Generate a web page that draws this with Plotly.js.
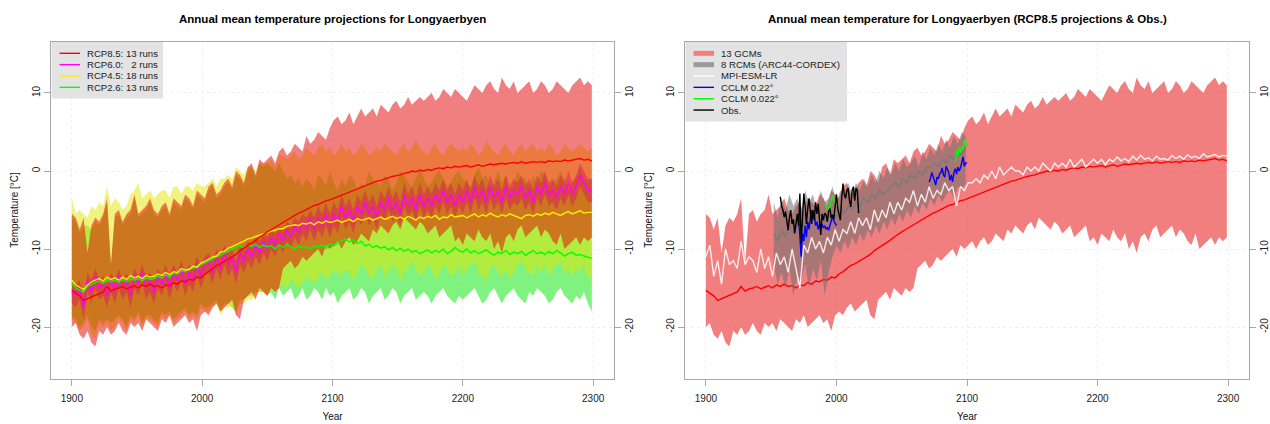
<!DOCTYPE html>
<html><head><meta charset="utf-8">
<script src="https://cdn.plot.ly/plotly-3.0.1.min.js"></script>
<style>html,body{margin:0;padding:0;background:#fff}#chart{width:1270px;height:424px}</style>
</head><body><div id="chart"></div>
<script>
// ---------- DATA (annual mean temperature, °C) ----------
// main series: every 3rd year from 1900 (1900,1903,...,2299)
const mainStart = 1900, mainStep = 3;
const xTicks = [1900, 2000, 2100, 2200, 2300];
const yTicks = [-20, -10, 0, 10];
const yTickText = ['-20', '-10', '0', '10'];

const rcp85_hi = [-5.5,-6,-7.5,-6,-10.5,-7,-6,-6.5,-5.5,-3.5,
 -12,-5.5,-5,-6.5,-5.5,-5,-3,-5.5,-5,-4.5,
 -3.5,-5,-5.5,-4.5,-4,-5.5,-3.5,-4,-4.5,-3,
 -3.5,-4.5,-2.5,-3,-3.5,-2,-1.5,-3,-2.5,-1.5,
 -1,-2,0,-0.5,-1.5,0.5,1,-0.5,1.5,1,
 1.5,2,1,2.5,3,2,2.5,3.5,3,2.5,
 4.5,3.5,4,5,4.5,4,5.5,6.5,7,6,
 6.5,7.5,6,7,8,7,7.5,8,7,8.5,
 8,7.5,8.5,9,8,8.5,9.5,8.5,9,9.5,
 9,9.5,10,9,9.5,10.5,10,9.5,10.5,10,
 9.5,9,10,11,10.5,10,11,11.5,10.5,10,
 12,11,10.5,11.5,10,10.5,11,11.5,10,10.5,
 11.5,11,10,10.5,11.5,11,10.5,10,11,11.5,
 12,11,11.5,11];
const rcp85_lo = [-20,-19.5,-21,-21.5,-20.5,-22,-22.5,-20.5,-21,-20,
 -21,-20.5,-19.5,-20.5,-21,-19.5,-20,-19.5,-20.5,-19,
 -19.5,-20,-20.5,-19,-19.5,-18.5,-20,-19.5,-19,-18.5,
 -19.5,-19,-20.5,-18.5,-18,-18.5,-17.5,-17,-18,-17.5,
 -17,-16.5,-18.5,-19,-16.5,-16,-15.5,-16.5,-15,-15.5,
 -16,-15,-15.5,-15,-12.5,-12,-11.5,-12.5,-12,-11,
 -11.5,-11,-10.5,-10,-11,-9.5,-10,-9.5,-9,-10,
 -9,-8.5,-9.5,-9,-8,-8.5,-9,-7.5,-8,-7,
 -7.5,-8,-7,-6.5,-7.5,-6,-6.5,-7,-7.5,-6.5,
 -7,-8,-7.5,-7,-8.5,-8,-7.5,-7,-9,-8.5,
 -9.5,-8,-8.5,-9,-7.5,-8.5,-9,-8,-10,-9,
 -10.5,-8.5,-8,-9,-7.5,-7,-8.5,-8,-7.5,-7,
 -8.5,-7.5,-8,-9,-9.5,-8,-10,-9.5,-9,-8.5,
 -9.5,-8.5,-9,-8.5];
const rcp85_mean = [-15.3,-15.6,-16,-16.6,-16.4,-16.2,-15.9,-15.7,-15.5,-14.8,
 -15.4,-15.1,-15,-14.8,-15.1,-14.9,-14.7,-15,-14.6,-14.8,
 -14.5,-14.8,-14.7,-15,-14.6,-14.7,-14.3,-14.5,-14.1,-14.2,
 -13.9,-14,-13.6,-13.7,-13.2,-12.9,-12.5,-12.1,-11.9,-11.6,
 -11.3,-10.9,-10.7,-10.2,-9.9,-9.5,-9.2,-8.9,-8.5,-8.1,
 -7.8,-7.5,-7.2,-6.9,-6.5,-6.2,-6,-5.7,-5.4,-5.2,
 -4.9,-4.7,-4.4,-4.3,-4,-3.8,-3.7,-3.5,-3.2,-3,
 -2.8,-2.7,-2.4,-2.2,-2.1,-1.8,-1.7,-1.5,-1.3,-1.2,
 -1,-0.9,-0.7,-0.6,-0.5,-0.3,-0.2,0,-0.1,0.1,
 0,0.2,0.1,0.3,0.4,0.3,0.5,0.4,0.6,0.5,
 0.6,0.7,0.5,0.7,0.8,0.6,0.8,0.9,0.8,0.9,
 1,0.9,1,1.1,1,1.2,1,1.1,1.2,1.1,
 1.2,1.1,1.3,1.2,1.3,1.2,1.4,1.3,1.4,1.5,
 1.6,1.4,1.5,1.3];

const rcp60_hi = [-14.5,-14.5,-14,-16,-13,-14,-12.5,-14,-13.5,-14.5,
 -13,-14,-12.5,-14,-13,-14.5,-12.5,-13.5,-12,-13.5,
 -13,-14,-12.5,-13.5,-12,-13.5,-12,-13,-11.5,-13,
 -12,-12.5,-11,-12,-11,-10.5,-11.5,-10,-11,-9.5,
 -10.5,-10,-11.5,-9.5,-10,-9,-9.5,-8.5,-9,-8,
 -8.5,-7.5,-8,-7,-7.5,-6.5,-7,-6,-6.5,-5.5,
 -6,-5,-6,-4.5,-5.5,-4,-5.5,-4,-5,-3,
 -4.5,-3.5,-5,-3,-4,-2.5,-4,-3,-4.5,-2.5,
 -3.5,-2,-3.5,-2.5,-4,-1.5,-3,-2,-3.5,-1.5,
 -3,-2,-3,-1.5,-2.5,-1,-2.5,-1.5,-3,-1.5,
 -2.5,-1,-2.5,-0.5,-2,-1,-2.5,-0.5,-2,-1,
 -2.5,-0.5,-2,-1,-1.5,-0.5,-2,-1,-2.5,-0.5,
 -1.5,0,-1.5,-1,-2,-0.5,-1.5,0,-1.5,-0.5,
 1,0,-1,-1];
const rcp60_lo = [-17,-17.5,-16.5,-19,-15.5,-17,-15,-16.5,-16,-17.5,
 -15.5,-17,-15,-16.5,-15.5,-17.5,-15,-16,-14.5,-16.5,
 -15.5,-17,-15,-16,-14.5,-16.5,-14.5,-15.5,-14,-16,
 -14.5,-15.5,-13.5,-15,-13.5,-13,-14.5,-12.5,-14,-12,
 -13.5,-12.5,-14.5,-12,-13,-11.5,-12.5,-11,-12,-10.5,
 -11.5,-10,-11,-9.5,-10.5,-9,-10,-8.5,-9.5,-8,
 -9,-7.5,-9,-7.5,-8.5,-7,-8.5,-7,-8,-6,
 -7.5,-6.5,-8,-6,-7,-5.5,-7,-6,-7.5,-5.5,
 -6.5,-5,-6.5,-5.5,-7,-4.5,-6,-5,-6.5,-4.5,
 -6,-5,-6,-4.5,-5.5,-4,-5.5,-4.5,-6,-4.5,
 -5.5,-4,-5.5,-3.5,-5,-4,-5.5,-3.5,-5,-4,
 -5.5,-3.5,-5,-4,-4.5,-3.5,-5,-4,-5.5,-3.5,
 -4.5,-3,-4.5,-4,-5,-3.5,-4.5,-3,-4.5,-3.5,
 -2,-3,-4,-4];
const rcp60_mean = [-15.5,-16,-15,-17.5,-14,-15.5,-13.5,-15,-14.5,-16,
 -14,-15.5,-13.5,-15,-14,-16,-13.5,-14.5,-13,-15,
 -14,-15.5,-13.5,-14.5,-13,-15,-13,-14,-12.5,-14.5,
 -13,-14,-12,-13.5,-12,-11.5,-13,-11,-12.5,-10.5,
 -12,-11,-13,-10.5,-11.5,-10,-11,-9.5,-10.5,-9,
 -10,-8.5,-9.5,-8,-9,-7.5,-8.5,-7,-8,-6.5,
 -7.5,-6,-7.5,-6,-7,-5.5,-7,-5.5,-6.5,-4.5,
 -6,-5,-6.5,-4.5,-5.5,-4,-5.5,-4.5,-6,-4,
 -5,-3.5,-5,-4,-5.5,-3,-4.5,-3.5,-5,-3,
 -4.5,-3.5,-4.5,-3,-4,-2.5,-4,-3,-4.5,-3,
 -4,-2.5,-4,-2,-3.5,-2.5,-4,-2,-3.5,-2.5,
 -4,-2,-3.5,-2.5,-3,-2,-3.5,-2.5,-4,-2,
 -3,-1.5,-3,-2.5,-3.5,-2,-3,-1.5,-3,-2,
 -0.5,-1.5,-2.5,-2.5];

const rcp45_hi = [-3.5,-5.5,-5,-5.5,-6,-4.5,-5,-4,-4.5,-2,
 -4.5,-3.5,-4,-5,-4.5,-3,-2.5,-1.5,-3.5,-3,
 -2.5,-3.5,-3,-2.5,-2.5,-3.5,-2,-2,-3,-2,
 -2,-2.5,-1.5,-2,-2,-1.5,-1,-2,-1,-1,
 -0.5,-1,0.5,0,-0.5,0.5,0.5,0,1,1,
 1,1.5,0.5,2,2,1.5,2,2.5,1.5,2,
 3,2.5,2,3,3.5,2.5,3,2,2.5,3.5,
 2.5,3,2,2.5,3.5,3,2,2.5,3,2.5,
 3.5,3,2.5,2,3,3.5,2.5,3,4,3,
 2.5,2,3,3.5,2.5,2,3,3.5,3,2.5,
 3,2.5,3.5,3,2,2.5,4,3,2.5,2,
 3,3.5,2.5,2,3,3.5,2.5,3,3.5,2.5,
 3,2.5,3.5,3,2,2.5,3.5,3,2.5,3,
 3.5,3,2.5,3];
const rcp45_lo = [-19,-19.5,-20.5,-20,-19,-21,-21.5,-19.5,-20,-19.5,
 -20.5,-20,-19,-19.5,-20.5,-19,-19.5,-18.5,-20,-19,
 -19,-19.5,-20,-18.5,-19,-18.5,-19.5,-19,-18.5,-18,
 -19,-18.5,-19,-17.5,-18,-18,-17.5,-17,-18.5,-17.5,
 -17.5,-17.5,-18.5,-17,-17,-16.5,-16.5,-16,-15.5,-15.5,
 -16,-15,-15.5,-15,-14.5,-15,-14,-14.5,-15,-14.5,
 -13.5,-14,-14.5,-13.5,-13,-14,-13.5,-12.5,-13,-13.5,
 -12.5,-13,-14,-13,-12,-12.5,-13.5,-14,-12.5,-12,
 -13.5,-13,-12,-12.5,-14,-13,-12.5,-11.5,-12.5,-13.5,
 -13,-12,-12.5,-14,-13,-12,-12.5,-13.5,-13,-12,
 -13.5,-12.5,-12,-11.5,-13,-13.5,-14,-12.5,-12,-13,
 -13.5,-12.5,-14,-13,-12,-11.5,-12.5,-13,-13.5,-12,
 -13,-12,-13.5,-12.5,-12,-11.5,-13,-12.5,-13.5,-12.5,
 -13,-12,-14,-13];
const rcp45_mean = [-14,-14.6,-14.9,-15.2,-14.6,-14.2,-14,-13.8,-14.1,-13.6,
 -13.9,-13.7,-14,-13.6,-13.9,-13.4,-13.7,-13.5,-13.8,-13.4,
 -13.6,-13.5,-13.2,-13.4,-13,-13.3,-12.9,-13,-12.5,-12.7,
 -12.6,-12.2,-12.3,-11.8,-11.6,-11.3,-11,-10.9,-10.4,-10.3,
 -9.9,-9.7,-9.5,-9.3,-9,-8.7,-8.6,-8.4,-8.2,-8,
 -7.9,-7.7,-7.6,-7.4,-7.4,-7.1,-7,-6.9,-7,-6.7,
 -6.8,-6.6,-6.9,-6.5,-6.7,-6.4,-6.6,-6.5,-6.3,-6.6,
 -6.4,-6.2,-6.5,-6.1,-6.3,-6.2,-6,-6.3,-6.1,-5.9,
 -6.2,-6,-5.8,-6.1,-5.9,-6.2,-5.8,-6,-6.3,-5.9,
 -6.1,-5.8,-6,-5.7,-6.2,-5.9,-6,-5.6,-5.9,-5.8,
 -5.7,-6,-5.8,-5.5,-5.9,-5.6,-5.8,-5.4,-5.7,-5.9,
 -5.6,-5.8,-5.5,-5.7,-5.9,-6.1,-5.7,-5.6,-5.8,-5.5,
 -5.7,-5.4,-5.6,-5.3,-5.5,-5.7,-5.4,-5.2,-5.5,-5.3,
 -5.1,-5.4,-5.3,-5.3];

const rcp26_hi = [-6,-6.5,-8,-7,-7,-7.5,-6.5,-7,-6,-4,
 -12,-6,-5.5,-7,-6,-5.5,-3.5,-6,-5.5,-5,
 -4,-5.5,-6,-5,-4.5,-6,-4,-4.5,-5,-3.5,
 -4,-5,-3,-3.5,-4,-2.5,-2,-3.5,-3,-2,
 -1.5,-2.5,-0.5,-1,-2,0,0.5,-1,1,0.5,
 1,0.5,0,1,0,-1,-0.5,-1.5,-1,-2,
 -1,-1.5,-2.5,-0.5,-1,-2,0,-1.5,-2.5,-1,
 -2,-0.5,-1,-2.5,-1.5,-2,0,-1,-1.5,-2,
 -0.5,-1,-2.5,-1.5,0,-0.5,-1.5,-2,-1,0.5,
 -1,-2,-1.5,-0.5,0,-1,-2,-1.5,-0.5,0,
 -1,-1.5,-2,-0.5,0.5,-1,-0.5,-2,-1.5,0,
 -1.5,-0.5,-2.5,-2,0,-1,-1,-2,-0.5,-1.5,
 0,-0.5,-2,-1.5,-1,0,-1,-2.5,-1.5,-1,
 0.5,-1,-1.5,-1];
const rcp26_lo = [-18.5,-19,-20,-19.5,-18.5,-20,-20.5,-19,-19.5,-19,
 -19.5,-19,-18.5,-19,-20,-18.5,-19,-18,-19.5,-18.5,
 -18.5,-19,-19.5,-18,-18.5,-18,-19,-18.5,-18,-17.5,
 -18.5,-18,-18.5,-17,-17.5,-17.5,-17,-16.5,-18,-17,
 -17,-17.5,-18,-16.5,-16.5,-16,-16,-15.5,-15.5,-15.5,
 -16,-15.5,-16.5,-15,-16,-15.5,-15,-16.5,-16,-15,
 -16.5,-16,-15,-15.5,-16.5,-15,-16,-15.5,-17,-16,
 -15.5,-15,-16.5,-16,-15,-15.5,-17,-16,-15.5,-15,
 -16.5,-16,-15,-15.5,-17,-16,-15.5,-15,-16.5,-16,
 -15.5,-16,-17,-16,-15.5,-15,-16,-16.5,-17,-16,
 -16.5,-16,-15.5,-15,-16,-17,-16.5,-15.5,-15,-16,
 -17,-16,-15.5,-15,-16,-16.5,-17,-15.5,-16,-15,
 -15.5,-16,-17,-16.5,-15.5,-15,-16,-16.5,-17,-16,
 -16.5,-15.5,-17,-18];
const rcp26_mean = [-14.4,-15,-15.3,-15.5,-14.8,-14.5,-14.3,-14.1,-14.4,-13.9,
 -14.2,-14,-14.3,-13.9,-14.2,-13.8,-14,-13.8,-14.1,-13.7,
 -13.9,-13.8,-13.5,-13.7,-13.3,-13.6,-13.1,-13.2,-12.8,-12.9,
 -12.7,-12.4,-12.4,-12,-11.8,-11.5,-11.2,-11,-10.8,-10.5,
 -10.2,-10,-9.8,-9.6,-9.9,-9.5,-9.7,-9.4,-9.8,-9.5,
 -9.7,-9.6,-10,-9.5,-9.8,-9.4,-9.7,-10,-9.6,-9.9,
 -9.7,-10,-9.6,-9.8,-9.5,-9.9,-9.3,-9.6,-9.2,-8.9,
 -8.7,-9.1,-8.8,-9.3,-9,-9.6,-9.4,-9.8,-9.6,-9.9,
 -9.7,-10.1,-9.8,-10.2,-9.9,-10.3,-10,-10.4,-10.2,-10.6,
 -10.3,-10.1,-10.5,-10.2,-10.4,-10,-10.6,-10.3,-9.8,-10.2,
 -10.4,-10,-10.5,-10.2,-10.6,-10.3,-10.1,-10.5,-10.8,-10.4,
 -10.6,-10.2,-10.7,-10.4,-10.6,-10.3,-10.8,-10.5,-10.2,-10.6,
 -10.4,-10.7,-10.3,-10.6,-10.2,-10.5,-10.9,-10.6,-10.4,-10.8,
 -10.7,-10.9,-11.1,-11.2];

const mpi_esm_lr = [-11,-9.5,-13.5,-11.5,-14.5,-10,-12,-11.5,-12.5,-9,
 -12,-11,-11.5,-13,-10,-12.5,-11,-13.5,-10.5,-12,
 -11,-13,-10,-12.5,-15,-9.5,-10.5,-8.5,-10,-9,
 -10.5,-8.5,-9.5,-7.5,-9,-7.5,-8,-6.5,-8,-6,
 -7,-6,-7.5,-5,-6.5,-5,-6,-4,-5.5,-4,
 -5,-3.5,-4,-2.5,-4.5,-3,-4,-2,-3.5,-2.5,
 -3,-1.5,-2.5,-2,-4.5,-2,-2.5,-1.5,-1.5,-1,
 -1.5,-0.5,-1,0,-1,0.5,-0.5,0,0.5,0,
 0,-0.5,0.5,0,0.5,0,1,0.5,0,1,
 0.5,1,0.5,1.5,0.5,1,1.5,0.5,1,1.5,
 1,1.5,0.8,1.5,1.2,1.8,1.3,1.6,1.2,1.9,
 1.4,2,1.5,1.7,1.3,1.9,1.5,1.6,1.4,2,
 1.6,1.9,1.5,2.1,1.7,1.9,1.6,2.2,1.8,2,
 2.1,1.8,2,1.9];

// 8 RCMs (ARC44-CORDEX): every 3rd year from 1952 (1952,...,2099)
const rcmStart = 1952, rcmStep = 3;
const rcm_hi = [-4,-6,-3.5,-5,-3,-4.5,-3.5,-5,-2.5,-4,
 -3,-5,-2.5,-4,-3.5,-2,-4,-2.5,-3,-1.5,
 -3,-1.5,-2.5,-1,-2,-0.5,-1.5,0,-1,0.5,
 -0.5,1,0,1.5,0.5,1,2,0.5,2.5,1.5,
 3,2,3.5,2.5,4,3,4.5,3.5,5,4.5];
const rcm_lo = [-12,-14.5,-13,-15,-12.5,-16,-13.5,-14,-12,-15,
 -12.5,-14,-11.5,-16,-13,-11,-9.5,-10.5,-9,-10,
 -8.5,-9.5,-8,-9,-7.5,-8.5,-7,-8,-6.5,-7.5,
 -6,-7,-5.5,-6.5,-5,-6,-4.5,-5.5,-4,-5,
 -3.5,-4.5,-3,-4,-3,-2.5,-3.5,-2,-2.5,-1.5];
const rcm_mean = [-8,-9,-7.5,-8.5,-7,-8,-7,-7.5,-6.5,-7,
 -6,-7,-5.5,-6.5,-6,-5,-6,-4.5,-5.5,-4.5,
 -5,-4,-4.5,-3.5,-4,-3,-3.5,-2.5,-3,-2.5,
 -2,-1.5,-2,-1,-1.5,-0.5,-1,0,-0.5,0.5,
 0.5,1,0.5,1.5,1,2,1.5,2.5,2,3];

// CCLM 0.22° (annual, 1971-2000 and 2071-2100)
const cclm022_histStart = 1971;
const cclm022_hist = [-6,-9,-11,-8,-9,-7,-8.5,-6.5,-7.5,-6,
 -5,-6,-5.5,-7,-6.5,-7.5,-6.8,-7.2,-6.8,-7.3,
 -7,-7.5,-7.2,-7.6,-7,-6.5,-5.8,-6.4,-6.8,-7];
const cclm022_futStart = 2071;
const cclm022_fut = [-1.4,-1,-0.2,-0.6,-1.2,-1.8,-0.8,-1,-0.4,-0.2,
 0.4,-0.5,-0.8,0.6,0.2,-0.2,-1.2,-0.5,-1.4,-0.2,
 0.3,-0.4,0.5,0,0.4,1.2,1.8,0.6,1,1.1];
// CCLM 0.022° (annual, 1991-2000 and 2091-2100)
const cclm0022_histStart = 1991;
const cclm0022_hist = [-4.2,-4.6,-4.8,-4.9,-4.5,-3.8,-3.1,-3.6,-4,-4.4];
const cclm0022_futStart = 2091;
const cclm0022_fut = [1.2,2.6,2,3,2.4,3.2,2.8,4,3.2,3.6];
// Observations Longyearbyen (annual, 1957-2017)
const obsStart = 1957;
const obs = [-3.3,-4.5,-5,-5.9,-5.2,-6.5,-7.6,-6,-5,-6.8,
 -6.2,-8,-6.5,-5.5,-7,-2.9,-9.3,-5.5,-2.9,-4.5,
 -6.8,-4.8,-3.5,-5.2,-6.8,-5,-6.3,-4,-5.5,-4.2,
 -6,-8.2,-5.5,-6.3,-5.4,-5.6,-6.5,-5.2,-4.8,-6,
 -5.6,-6.2,-4.5,-3,-4.8,-5.5,-6.3,-3.5,-1.6,-3,
 -3.5,-2.5,-2.2,-3.8,-4.6,-2.5,-2,-3.8,-2.2,-2.5,-5.4];

const leftLegend = ['RCP8.5: 13 runs', 'RCP6.0:   2 runs', 'RCP4.5: 18 runs', 'RCP2.6: 13 runs'];
const rightLegend = ['13 GCMs', '8 RCMs (ARC44-CORDEX)', 'MPI-ESM-LR', 'CCLM 0.22°', 'CCLM 0.022°', 'Obs.'];

// ---------- BUILD ----------
const W = 1270, H = 424;
const FONT = '"Liberation Sans", Arial, Helvetica, sans-serif';
function seq(s, st, n) { const a = []; for (let i = 0; i < n; i++) a.push(s + i * st); return a; }
const yrs = seq(mainStart, mainStep, rcp85_mean.length);
const yrsRcm = seq(rcmStart, rcmStep, rcm_mean.length);
[rcp85_hi, rcp85_lo, rcp60_hi, rcp60_lo, rcp60_mean, rcp45_hi, rcp45_lo, rcp45_mean, rcp26_hi, rcp26_lo, rcp26_mean, mpi_esm_lr]
  .forEach((a, i) => { if (a.length !== yrs.length) throw new Error('length mismatch in main array #' + i + ': ' + a.length); });
[rcm_hi, rcm_lo].forEach((a, i) => { if (a.length !== yrsRcm.length) throw new Error('rcm length mismatch #' + i); });

function band(xs, lo, hi, color, xa, ya) {
  return { x: xs.concat(xs.slice().reverse()), y: hi.concat(lo.slice().reverse()),
    type: 'scatter', mode: 'lines', fill: 'toself', fillcolor: color, line: { width: 0, color: color },
    hoverinfo: 'skip', showlegend: false, xaxis: xa, yaxis: ya };
}
function line(xs, ys, color, w, xa, ya, op) {
  return { x: xs, y: ys, type: 'scatter', mode: 'lines', line: { color: color, width: w },
    opacity: op === undefined ? 1 : op, hoverinfo: 'skip', showlegend: false, xaxis: xa, yaxis: ya };
}
const C_RED = 'rgba(230,0,0,0.5)', C_YEL = 'rgba(230,230,0,0.5)', C_GRN = 'rgba(0,230,0,0.5)', C_MAG = 'rgba(220,0,200,0.38)';
const C_GRAY = 'rgba(110,110,110,0.55)';

const traces = [
  band(yrs, rcp26_lo, rcp26_hi, C_GRN, 'x', 'y'),
  band(yrs, rcp45_lo, rcp45_hi, C_YEL, 'x', 'y'),
  band(yrs, rcp60_lo, rcp60_hi, C_MAG, 'x', 'y'),
  band(yrs, rcp85_lo, rcp85_hi, C_RED, 'x', 'y'),
  line(yrs, rcp60_mean, '#ff00ff', 1.4, 'x', 'y'),
  line(yrs, rcp26_mean, '#00ff00', 1.4, 'x', 'y'),
  line(yrs, rcp45_mean, '#ffee00', 1.4, 'x', 'y'),
  line(yrs, rcp85_mean, '#ff0000', 1.4, 'x', 'y'),
  // right panel
  band(yrs, rcp85_lo, rcp85_hi, C_RED, 'x2', 'y2'),
  line(yrs, rcp85_mean, '#ff0000', 1.4, 'x2', 'y2'),
  band(yrsRcm, rcm_lo, rcm_hi, C_GRAY, 'x2', 'y2'),
  line(yrsRcm, rcm_mean, '#7a7a7a', 1.4, 'x2', 'y2'),
  line(yrs, mpi_esm_lr, '#ffffff', 1.4, 'x2', 'y2', 0.85),
  line(seq(cclm022_histStart, 1, cclm022_hist.length), cclm022_hist, '#0000ff', 1.4, 'x2', 'y2'),
  line(seq(cclm022_futStart, 1, cclm022_fut.length), cclm022_fut, '#0000ff', 1.4, 'x2', 'y2'),
  line(seq(cclm0022_histStart, 1, cclm0022_hist.length), cclm0022_hist, '#00ff00', 1.4, 'x2', 'y2'),
  line(seq(cclm0022_futStart, 1, cclm0022_fut.length), cclm0022_fut, '#00ff00', 1.4, 'x2', 'y2'),
  line(seq(obsStart, 1, obs.length), obs, '#000000', 1.4, 'x2', 'y2'),
  // carriers for right-hand tick axes
  { x: [null], y: [null], type: 'scatter', mode: 'lines', xaxis: 'x', yaxis: 'y3', showlegend: false, hoverinfo: 'skip' },
  { x: [null], y: [null], type: 'scatter', mode: 'lines', xaxis: 'x2', yaxis: 'y4', showlegend: false, hoverinfo: 'skip' }
];

const P = px => px / W, Q = py => 1 - py / H;
const L1 = [51, 614], L2 = [685, 1249], TOP = 41.5, BOT = 378.5;
const yDom = [Q(BOT), Q(TOP)];
const frame = '#a8a8a8', tickF = { size: 10, color: '#222', family: FONT }, titF = { size: 10, color: '#111', family: FONT };
const GRID = '#f0f0f0';
function xax(dom, anchor) {
  return { domain: [P(dom[0]), P(dom[1])], anchor: anchor, range: [1884, 2316], tickmode: 'array', tickvals: xTicks,
    ticktext: xTicks.map(String), ticks: 'outside', ticklen: 6, tickcolor: frame, showline: true, linecolor: frame,
    mirror: true, showgrid: true, gridcolor: GRID, griddash: 'dot', zeroline: false, tickfont: tickF,
    ticklabelstandoff: 4, title: { text: 'Year', font: titF, standoff: 10 }, fixedrange: true, automargin: false };
}
function yax(anchor) {
  return { domain: yDom, anchor: anchor, range: [-26.6, 16.6], tickmode: 'array', tickvals: yTicks, ticktext: yTickText,
    tickangle: -90, ticks: 'outside', ticklen: 6, tickcolor: frame, showline: true, linecolor: frame, mirror: true,
    showgrid: true, gridcolor: GRID, griddash: 'dot', zeroline: false, tickfont: tickF,
    title: { text: 'Temperature [°C]', font: titF, standoff: 10 }, fixedrange: true, automargin: false };
}
function yaxR(over, anchor) {
  return { domain: yDom, overlaying: over, anchor: anchor, side: 'right', range: [-26.6, 16.6], tickmode: 'array',
    tickvals: yTicks, ticktext: yTickText, tickangle: -90, ticks: 'outside', ticklen: 6, tickcolor: frame,
    showline: false, showgrid: false, zeroline: false, tickfont: tickF, fixedrange: true, automargin: false };
}

const shapes = [], annotations = [];
annotations.push({ text: '<b>Annual mean temperature projections for Longyaerbyen</b>', xref: 'paper', yref: 'paper',
  x: P((L1[0] + L1[1]) / 2), y: Q(19), xanchor: 'center', yanchor: 'middle', showarrow: false, font: { size: 11.5, color: '#000', family: FONT } });
annotations.push({ text: '<b>Annual mean temperature for Longyaerbyen (RCP8.5 projections &amp; Obs.)</b>', xref: 'paper', yref: 'paper',
  x: P((L2[0] + L2[1]) / 2), y: Q(19), xanchor: 'center', yanchor: 'middle', showarrow: false, font: { size: 11.5, color: '#000', family: FONT } });

function legend(x0, x1, yBottom, entries, keys) {
  shapes.push({ type: 'rect', xref: 'paper', yref: 'paper', x0: P(x0 + 0.5), x1: P(x1), y0: Q(yBottom), y1: Q(TOP + 0.5),
    fillcolor: '#e3e3e3', line: { width: 0 }, layer: 'above' });
  entries.forEach((t, i) => {
    const yy = 53.3 + i * 11.35;
    const k = keys[i];
    shapes.push({ type: 'line', xref: 'paper', yref: 'paper', x0: P(x0 + 8.5), x1: P(x0 + 29), y0: Q(yy), y1: Q(yy),
      line: { color: k.c, width: k.w }, layer: 'above' });
    annotations.push({ text: t, xref: 'paper', yref: 'paper', x: P(x0 + 34.5), y: Q(yy), xanchor: 'left', yanchor: 'middle',
      showarrow: false, borderpad: 0, font: { size: 9.6, color: '#222', family: FONT } });
  });
}
legend(L1[0], 163, 98.5, leftLegend, [{ c: '#ff0000', w: 1.4 }, { c: '#ff00ff', w: 1.4 }, { c: '#ffee00', w: 1.4 }, { c: '#00ff00', w: 1.4 }]);
legend(L2[0], 847, 121.5, rightLegend, [{ c: '#f08080', w: 5 }, { c: '#9a9a9a', w: 5 }, { c: '#ffffff', w: 1.4 },
  { c: '#0000ff', w: 1.4 }, { c: '#00ff00', w: 1.4 }, { c: '#000000', w: 1.4 }]);

const layout = {
  width: W, height: H, margin: { l: 0, r: 0, t: 0, b: 0, pad: 0 }, paper_bgcolor: '#fff', plot_bgcolor: '#fff',
  font: { family: FONT, size: 10, color: '#222' }, showlegend: false,
  xaxis: xax(L1, 'y'), yaxis: yax('x'), xaxis2: xax(L2, 'y2'), yaxis2: yax('x2'),
  yaxis3: yaxR('y', 'x'), yaxis4: yaxR('y2', 'x2'),
  shapes: shapes, annotations: annotations
};
Plotly.newPlot('chart', traces, layout, { displayModeBar: false, staticPlot: true });
</script></body></html>
